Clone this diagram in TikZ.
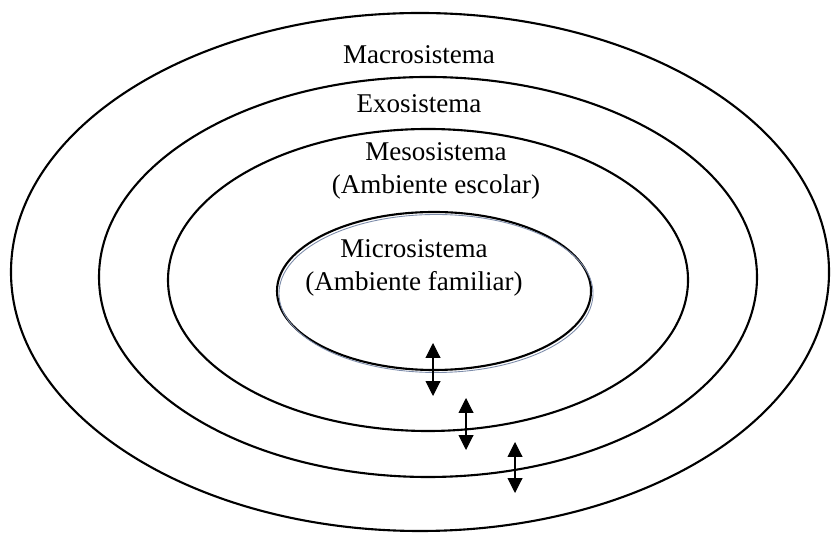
\documentclass[tikz,border=0pt]{standalone}
\usepackage{fontspec}
\setmainfont{Liberation Serif}
\definecolor{ringgray}{RGB}{125,140,170}
\usetikzlibrary{arrows.meta,positioning}

\begin{document}
\begin{tikzpicture}[
    ring/.style={draw=black, line width=1.2pt},
    label/.style={align=center, font=\fontsize{15.4pt}{18.5pt}\selectfont},
    arrow/.style={{Triangle[width=8.5pt,length=8.5pt]}-{Triangle[width=8.5pt,length=8.5pt]}, line width=0.6pt}]

\useasboundingbox (0,0) rectangle (16.64,10.66);

% Rings
\draw[ring] (8.40,5.22) ellipse [x radius=8.18, y radius=5.18];
\draw[ring] (8.56,5.12) ellipse [x radius=6.58, y radius=4.00];
\draw[ring] (8.56,5.06) ellipse [x radius=5.20, y radius=3.02];
\draw[ring] (8.68,4.84) ellipse [x radius=3.14, y radius=1.58];
\draw[ringgray, line width=0.5pt] (8.72,4.79) ellipse [x radius=3.14, y radius=1.58];

% Labels
\node[label] (macro) at (8.38,9.56) {Macrosistema};
\node[label] (exo) at (8.38,8.58) {Exosistema};
\node[label] (meso) at (8.72,7.24) {Mesosistema\\(Ambiente escolar)};
\node[label] (micro) at (8.28,5.30) {Microsistema\\(Ambiente familiar)};

% Arrows
\coordinate (t1) at (8.66,3.80);
\coordinate (b1) at (8.66,2.74);
\coordinate (t2) at (9.32,2.70);
\coordinate (b2) at (9.32,1.66);
\coordinate (t3) at (10.30,1.82);
\coordinate (b3) at (10.30,0.80);
\draw[arrow] (t1) -- (b1);
\draw[arrow] (t2) -- (b2);
\draw[arrow] (t3) -- (b3);
\end{tikzpicture}
\end{document}
